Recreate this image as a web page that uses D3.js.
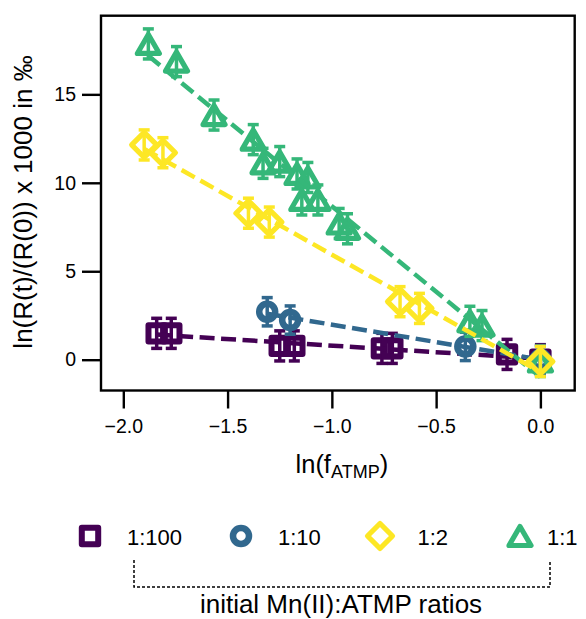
<!DOCTYPE html>
<html>
<head>
<meta charset="utf-8">
<script src="https://cdn.jsdelivr.net/npm/d3@7/dist/d3.min.js"></script>
<style>
  html, body { margin: 0; padding: 0; background: #fff; }
  svg { display: block; font-family: "Liberation Sans", Arial, sans-serif; }
</style>
</head>
<body>
<svg id="chart" width="586" height="619"></svg>
<script>
// Ratios of Mn(II):ATMP and their series
const ratios = ["1:100", "1:10", "1:2", "1:1"];
const colors = ["#440154", "#31688e", "#fde725", "#35b779"];
const shapes = ["square", "circle", "diamond", "triangle"];

// ln(f_ATMP) and ln(R(t)/R(0)) x 1000 for each ratio
const x100 = [-1.84, -1.77, -1.25, -1.18, -0.76, -0.71, -0.16, 0.0];
const y100 = [1.49, 1.49, 0.78, 0.78, 0.64, 0.64, 0.3, 0.0];
const e100 = [0.85, 0.85, 0.85, 0.85, 0.85, 0.85, 0.85, 0.85];

const x10 = [-1.31, -1.20, -0.36, 0.0];
const y10 = [2.71, 2.24, 0.75, 0.0];
const e10 = [0.8, 0.8, 0.8, 0.8];

const x2 = [-1.90, -1.81, -1.40, -1.30, -0.673, -0.58, 0.0];
const y2 = [12.14, 11.7, 8.28, 7.78, 3.28, 2.9, -0.1];
const e2 = [0.85, 0.85, 0.85, 0.85, 0.85, 0.85, 0.85];

const x1 = [-1.88, -1.745, -1.565, -1.377, -1.33, -1.25, -1.167, -1.115, -1.144, -1.067, -0.965, -0.925, -0.338, -0.28, 0.0];
const y1 = [17.85, 16.85, 13.83, 12.44, 11.1, 11.2, 10.5, 10.3, 9.03, 9.03, 7.7, 7.4, 2.17, 1.93, -0.1];
const e1 = [0.85, 0.85, 0.85, 0.85, 0.85, 0.85, 0.85, 0.85, 0.85, 0.85, 0.85, 0.85, 0.85, 0.85, 0.85];

const xTicks = [-2.0, -1.5, -1.0, -0.5, 0.0];
const yTicks = [0, 5, 10, 15];

const series = [
  { name: ratios[0], color: colors[0], shape: shapes[0], x: x100, y: y100, e: e100 },
  { name: ratios[1], color: colors[1], shape: shapes[1], x: x10, y: y10, e: e10 },
  { name: ratios[3], color: colors[3], shape: shapes[3], x: x1, y: y1, e: e1 },
  { name: ratios[2], color: colors[2], shape: shapes[2], x: x2, y: y2, e: e2 }
];

const svg = d3.select("#chart");
const plot = { left: 101, right: 574.7, top: 15.7, bottom: 390.5 };

const x = d3.scaleLinear().domain([-2.107, 0.1645]).range([plot.left, plot.right]);
const y = d3.scaleLinear().domain([-1.741, 19.446]).range([plot.bottom, plot.top]);

// marker outline and stroke width by shape
const markerDef = {
  square:   { d: "M-8.2,-8.2H8.2V8.2H-8.2Z", w: 6 },
  circle:   { d: "M8,0A8,8 0 1,1 -8,0A8,8 0 1,1 8,0Z", w: 6.5 },
  diamond:  { d: "M0,-12.5L12.5,0L0,12.5L-12.5,0Z", w: 5.2 },
  triangle: { d: "M0,-9.5L11,9.5L-11,9.5Z", w: 5.2 }
};

// least-squares fit line through each series
function fit(xs, ys) {
  const mx = d3.mean(xs), my = d3.mean(ys);
  let sxy = 0, sxx = 0;
  xs.forEach((v, i) => { sxy += (v - mx) * (ys[i] - my); sxx += (v - mx) * (v - mx); });
  const b = sxy / sxx;
  return { slope: b, icpt: my - b * mx };
}

const g = svg.append("g");

series.forEach(s => {
  const sg = g.append("g");
  const pts = s.x.map((v, i) => ({ x: v, y: s.y[i], e: s.e[i] }));
  const mk = markerDef[s.shape];

  // error bars
  const eb = sg.selectAll("g.eb").data(pts).join("g").attr("class", "eb")
    .attr("stroke", s.color).attr("stroke-width", 3.5).attr("fill", "none");
  eb.append("line")
    .attr("x1", d => x(d.x)).attr("x2", d => x(d.x))
    .attr("y1", d => y(d.y - d.e)).attr("y2", d => y(d.y + d.e));
  eb.append("line")
    .attr("x1", d => x(d.x) - 5.5).attr("x2", d => x(d.x) + 5.5)
    .attr("y1", d => y(d.y + d.e)).attr("y2", d => y(d.y + d.e));
  eb.append("line")
    .attr("x1", d => x(d.x) - 5.5).attr("x2", d => x(d.x) + 5.5)
    .attr("y1", d => y(d.y - d.e)).attr("y2", d => y(d.y - d.e));

  // markers
  sg.selectAll("path.mk").data(pts).join("path").attr("class", "mk")
    .attr("d", mk.d)
    .attr("transform", d => `translate(${x(d.x)},${y(d.y)})`)
    .attr("fill", "none").attr("stroke", s.color)
    .attr("stroke-width", mk.w).attr("stroke-linejoin", "round");

  // dashed fit
  const f = fit(s.x, s.y);
  const xmin = d3.min(s.x), xmax = d3.max(s.x);
  sg.append("line")
    .attr("x1", x(xmin)).attr("y1", y(f.icpt + f.slope * xmin))
    .attr("x2", x(xmax)).attr("y2", y(f.icpt + f.slope * xmax))
    .attr("stroke", s.color).attr("stroke-width", 4.5)
    .attr("stroke-dasharray", "15,6.5");
});

// frame
svg.append("rect")
  .attr("x", plot.left).attr("y", plot.top)
  .attr("width", plot.right - plot.left).attr("height", plot.bottom - plot.top)
  .attr("fill", "none").attr("stroke", "#000").attr("stroke-width", 2.4);

const fmt = v => (v < 0 ? "\u2212" : "") + Math.abs(v).toFixed(1);

// x axis
const xAxis = svg.append("g")
  .attr("transform", `translate(0,${plot.bottom})`)
  .call(d3.axisBottom(x).tickValues(xTicks).tickFormat(fmt).tickSize(18).tickSizeOuter(0).tickPadding(11));
xAxis.select(".domain").remove();
xAxis.selectAll(".tick line").attr("stroke", "#000").attr("stroke-width", 2.4);
xAxis.selectAll(".tick text").attr("font-size", 19.5).attr("fill", "#000")
  .attr("font-family", "Liberation Sans, Arial, sans-serif");

// y axis
const yAxis = svg.append("g")
  .attr("transform", `translate(${plot.left},0)`)
  .call(d3.axisLeft(y).tickValues(yTicks).tickFormat(d3.format("d")).tickSize(19).tickSizeOuter(0).tickPadding(6));
yAxis.select(".domain").remove();
yAxis.selectAll(".tick line").attr("stroke", "#000").attr("stroke-width", 2.4);
yAxis.selectAll(".tick text").attr("font-size", 19.5).attr("fill", "#000")
  .attr("font-family", "Liberation Sans, Arial, sans-serif");

// axis titles
const xl = svg.append("text")
  .attr("x", (plot.left + plot.right) / 2 + 4).attr("y", 473)
  .attr("text-anchor", "middle").attr("font-size", 25.5).attr("fill", "#000");
xl.append("tspan").text("ln(f");
xl.append("tspan").attr("font-size", 18).attr("dy", 5).text("ATMP");
xl.append("tspan").attr("dy", -5).text(")");

svg.append("text")
  .attr("transform", "translate(32,202) rotate(-90)")
  .attr("text-anchor", "middle").attr("font-size", 26).attr("fill", "#000")
  .text("ln(R(t)/(R(0)) x 1000 in \u2030");

// legend
const legX = [90, 241, 380, 520];
const legTextX = [127, 278, 417.5, 547];
const leg = svg.append("g");
ratios.forEach((r, i) => {
  const mk = markerDef[shapes[i]];
  leg.append("path")
    .attr("d", mk.d)
    .attr("transform", `translate(${legX[i]},536)`)
    .attr("fill", "none").attr("stroke", colors[i])
    .attr("stroke-width", mk.w).attr("stroke-linejoin", "round");
  leg.append("text")
    .attr("x", legTextX[i]).attr("y", 544.5)
    .attr("font-size", 22).attr("fill", "#000")
    .text(r);
});

// bracket grouping the ratios
svg.append("path")
  .attr("d", "M134,560V587H550V560")
  .attr("fill", "none").attr("stroke", "#000").attr("stroke-width", 1.5)
  .attr("stroke-dasharray", "3,2");

svg.append("text")
  .attr("x", 341).attr("y", 613)
  .attr("text-anchor", "middle").attr("font-size", 26).attr("fill", "#000")
  .text("initial Mn(II):ATMP ratios");
</script>
</body>
</html>
